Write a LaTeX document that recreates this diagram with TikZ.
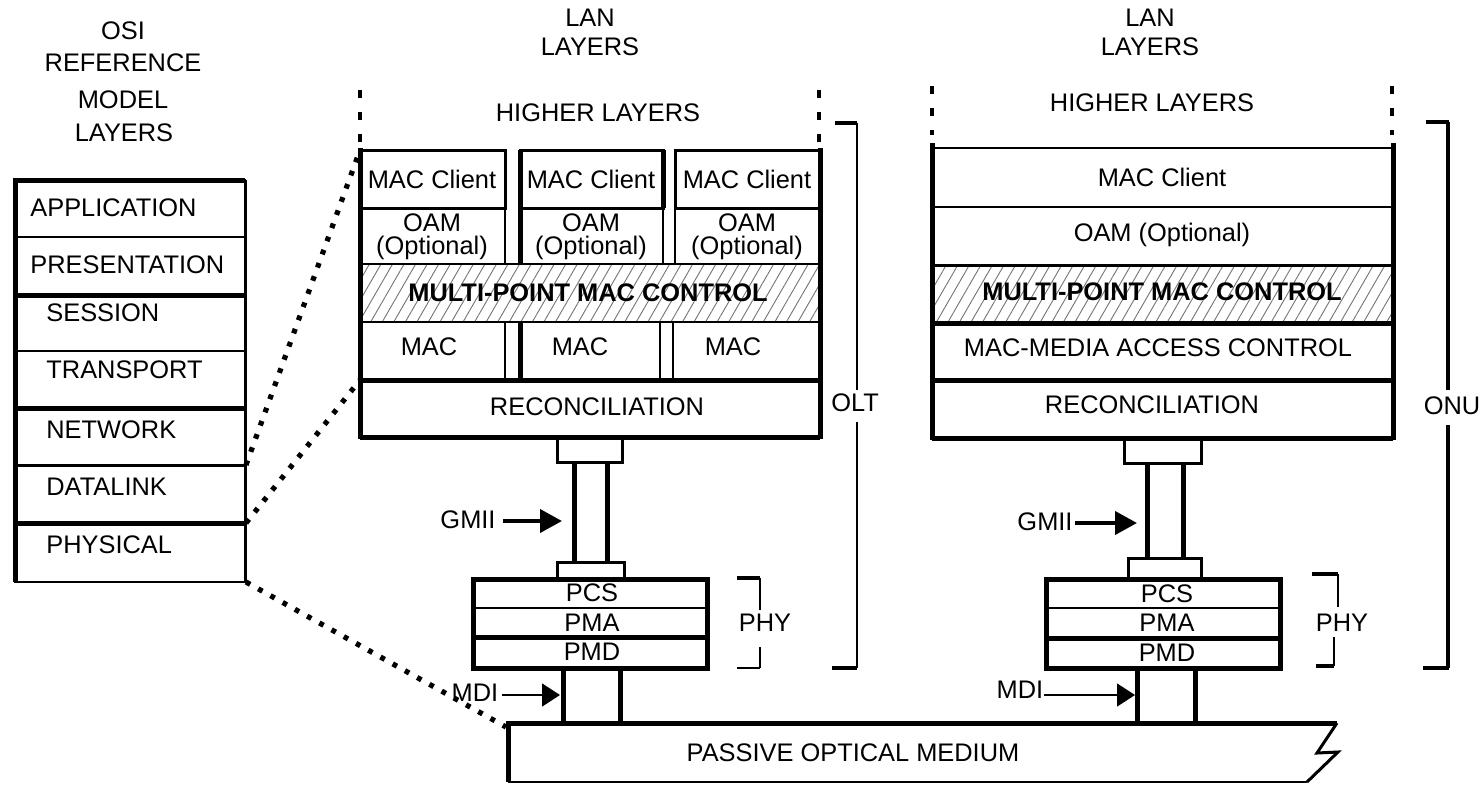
\documentclass[tikz,border=0pt]{standalone}
\usepackage{fontspec}
\setmainfont{Liberation Sans}
\usetikzlibrary{arrows.meta,patterns.meta}
\begin{document}
\begin{tikzpicture}[x=0.5pt,y=-0.5pt,
  lbl/.style={font=\fontsize{12.7}{14}\selectfont, inner sep=0pt},
  thinl/.style={line width=1pt},
  medl/.style={line width=1.5pt},
  thk/.style={line width=2.5pt},
  osidots/.style={line width=2.6pt, dash pattern=on 2.4pt off 4.6pt},
  topdots/.style={line width=2pt, dash pattern=on 4pt off 7pt},
  hatch/.style={pattern={Lines[angle=60,distance=5pt,line width=0.45pt]}, pattern color=black!55},
  bigarrow/.style={line width=2pt, -{Triangle[length=11pt,width=11.5pt]}},
  thinarrow/.style={line width=0.7pt, -{Triangle[length=9pt,width=11.5pt]}},
  brk/.style={line width=1pt},
  brktick/.style={line width=2pt}
]
\useasboundingbox (0,0) rectangle (1479,784);

% ---------------- OSI column ----------------
\node[lbl] (osi1) at (123,31) {OSI};
\node[lbl] (osi2) at (123,63) {REFERENCE};
\node[lbl] (osi3) at (123,100) {MODEL};
\node[lbl] (osi4) at (124,133) {LAYERS};

\draw[thinl] (15,180) rectangle (245,582);
\draw[medl] (245,180) -- (245,582);
\draw[thk] (15,180) -- (245,180);
\draw[thk] (15,178) -- (15,582);
\draw[thinl] (15,237) -- (245,237);
\draw[thk] (15,295) -- (245,295);
\draw[thinl] (15,351) -- (245,351);
\draw[thk] (15,408) -- (245,408);
\draw[medl] (15,465) -- (245,465);
\draw[thk] (15,523) -- (245,523);

\node[lbl,anchor=west] (app) at (30,208) {APPLICATION};
\node[lbl,anchor=west] (pres) at (30,265) {PRESENTATION};
\node[lbl,anchor=west] (sess) at (46,313) {SESSION};
\node[lbl,anchor=west] (tran) at (46,370) {TRANSPORT};
\node[lbl,anchor=west] (netw) at (46,430) {NETWORK};
\node[lbl,anchor=west] (datl) at (46,487) {DATALINK};
\node[lbl,anchor=west] (phys) at (46,545) {PHYSICAL};

% ---------------- OLT stack ----------------
\node[lbl] (lan1a) at (590,18) {LAN};
\node[lbl] (lan1b) at (590,47) {LAYERS};
\node[lbl] (hl1) at (598,113) {HIGHER LAYERS};
\draw[topdots] (360,90) -- (360,145);
\draw[topdots] (819,90) -- (819,145);

\fill[hatch] (360,264) rectangle (820,322);
\draw[medl] (360,150) rectangle (505,208);
\draw[thinl] (360,208) rectangle (505,264);
\draw[medl] (520,150) rectangle (663,208);
\draw[thinl] (520,208) rectangle (663,264);
\draw[medl] (675,150) rectangle (820,208);
\draw[thinl] (675,208) rectangle (820,264);
\draw[thinl] (360,264) rectangle (820,322);
\draw[thinl] (360,322) rectangle (505,380);
\draw[thinl] (520,322) rectangle (660,380);
\draw[thinl] (673,322) rectangle (820,380);
\draw[thinl] (360,380) rectangle (820,437);
\draw[thk] (360,148) -- (360,439);
\draw[thk] (820,148) -- (820,439);
\draw[thk] (360,380) -- (820,380);
\draw[thk] (360,437) -- (820,437);
\draw[thk] (520,150) -- (520,264);
\draw[thk] (520,322) -- (520,380);
\draw[thk] (663,150) -- (663,208);

\node[lbl] (mc1) at (432,179) {MAC Client};
\node[lbl] (mc2) at (591,179) {MAC Client};
\node[lbl] (mc3) at (747,179) {MAC Client};
\node[lbl] (oam1) at (432,223) {OAM};
\node[lbl] (opt1) at (432,248) {(Optional)};
\node[lbl] (oam2) at (591,223) {OAM};
\node[lbl] (opt2) at (591,248) {(Optional)};
\node[lbl] (oam3) at (747,223) {OAM};
\node[lbl] (opt3) at (747,248) {(Optional)};
\node[lbl,font=\fontsize{12.7}{14}\selectfont\bfseries] (mp1) at (588,293) {MULTI-POINT MAC CONTROL};
\node[lbl] (mac1) at (429,347) {MAC};
\node[lbl] (mac2) at (580,347) {MAC};
\node[lbl] (mac3) at (733,347) {MAC};
\node[lbl] (rec1) at (597,407) {RECONCILIATION};

% OLT interface
\draw[medl] (557,438) rectangle (622,462);
\draw[thk] (574,462) -- (574,562);
\draw[thk] (607,462) -- (607,562);
\draw[medl] (557,562) rectangle (624,579);
\draw[thk] (473,579) rectangle (707,668);
\draw[thinl] (473,608) -- (707,608);
\draw[thk] (473,637) -- (707,637);
\node[lbl] (pcs1) at (592,593) {PCS};
\node[lbl] (pma1) at (592,623) {PMA};
\node[lbl] (pmd1) at (592,652) {PMD};
\draw[thk] (563,668) -- (563,723);
\draw[thk] (620,668) -- (620,723);

\node[lbl] (gmii1) at (468,520) {GMII};
\coordinate (g1t) at (562,521);
\draw[bigarrow] (503,521) -- (g1t);
\node[lbl] (mdi1) at (475,693) {MDI};
\coordinate (m1t) at (560,695);
\draw[thinarrow] (502,695) -- (m1t);

% PHY bracket OLT
\draw[brktick] (737,578) -- (760,578);
\draw[brk] (760,578) -- (760,610);
\draw[brk] (760,647) -- (760,668);
\draw[brk] (737,668) -- (760,668);
\node[lbl] (phy1) at (765,623) {PHY};

% OLT bracket
\draw[brktick] (835,123) -- (857,123);
\draw[brk] (857,123) -- (857,390);
\draw[brk] (857,422) -- (857,668);
\draw[brktick] (832,668) -- (857,668);
\node[lbl] (olt) at (855,403) {OLT};

% ---------------- ONU stack ----------------
\node[lbl] (lan2a) at (1150,18) {LAN};
\node[lbl] (lan2b) at (1150,47) {LAYERS};
\node[lbl] (hl2) at (1152,103) {HIGHER LAYERS};
\draw[topdots] (932,86) -- (932,135);
\draw[topdots] (1392,86) -- (1392,135);

\fill[hatch] (932,265) rectangle (1393,323);
\draw[thinl] (932,148) rectangle (1393,207);
\draw[thinl] (932,207) rectangle (1393,265);
\draw[medl] (932,265) rectangle (1393,323);
\draw[thinl] (932,323) rectangle (1393,380);
\draw[thinl] (932,380) rectangle (1393,438);
\draw[thk] (932,143) -- (932,440);
\draw[thk] (1393,143) -- (1393,440);
\draw[thk] (932,323) -- (1393,323);
\draw[thk] (932,380) -- (1393,380);
\draw[thk] (932,438) -- (1393,438);

\node[lbl] (mc4) at (1162,177) {MAC Client};
\node[lbl] (oam4) at (1162,235) {OAM (Optional)};
\node[lbl,font=\fontsize{12.7}{14}\selectfont\bfseries] (mp2) at (1162,292) {MULTI-POINT MAC CONTROL};
\node[lbl] (mac4) at (1158,348) {MAC-MEDIA ACCESS CONTROL};
\node[lbl] (rec2) at (1152,405) {RECONCILIATION};

% ONU interface
\draw[medl] (1124,438) rectangle (1201,463);
\draw[thk] (1147,463) -- (1147,558);
\draw[thk] (1183,463) -- (1183,558);
\draw[medl] (1128,558) rectangle (1201,579);
\draw[thk] (1046,579) rectangle (1280,668);
\draw[thinl] (1046,608) -- (1280,608);
\draw[thk] (1046,638) -- (1280,638);
\node[lbl] (pcs2) at (1167,594) {PCS};
\node[lbl] (pma2) at (1167,623) {PMA};
\node[lbl] (pmd2) at (1167,653) {PMD};
\draw[thk] (1137,668) -- (1137,723);
\draw[thk] (1195,668) -- (1195,723);

\node[lbl] (gmii2) at (1045,522) {GMII};
\coordinate (g2t) at (1137,523);
\draw[bigarrow] (1075,523) -- (g2t);
\node[lbl] (mdi2) at (1020,690) {MDI};
\coordinate (m2t) at (1135,695);
\draw[thinarrow] (1044,695) -- (m2t);

% PHY bracket ONU
\draw[brktick] (1312,574) -- (1338,574);
\draw[brk] (1338,574) -- (1338,607);
\draw[brk] (1334,637) -- (1334,666);
\draw[brktick] (1316,666) -- (1334,666);
\node[lbl] (phy2) at (1342,623) {PHY};

% ONU bracket
\draw[brktick] (1426,122) -- (1449,122);
\draw[brktick] (1448,122) -- (1448,390);
\draw[brktick] (1448,425) -- (1448,668);
\draw[brktick] (1423,668) -- (1449,668);
\node[lbl] (onu) at (1452,406) {ONU};

% ---------------- passive optical medium ----------------
\draw[thk] (508,723) -- (1337,723);
\draw[thk] (508,721) -- (508,782);
\draw[thinl] (508,782) -- (1307,782);
\draw[medl,line join=miter] (1337,723) -- (1317,753) -- (1338,752) -- (1307,782);
\node[lbl] (pom) at (853,753) {PASSIVE OPTICAL MEDIUM};

% ---------------- dotted correspondences ----------------
\coordinate (o1) at (246,465);
\coordinate (t1) at (360,150);
\coordinate (o2) at (246,523);
\coordinate (t2) at (360,380);
\coordinate (o3) at (246,582);
\coordinate (t3) at (506,727);
\draw[osidots] (o1) -- (t1);
\draw[osidots] (o2) -- (t2);
\draw[osidots] (o3) -- (t3);
\end{tikzpicture}
\end{document}
